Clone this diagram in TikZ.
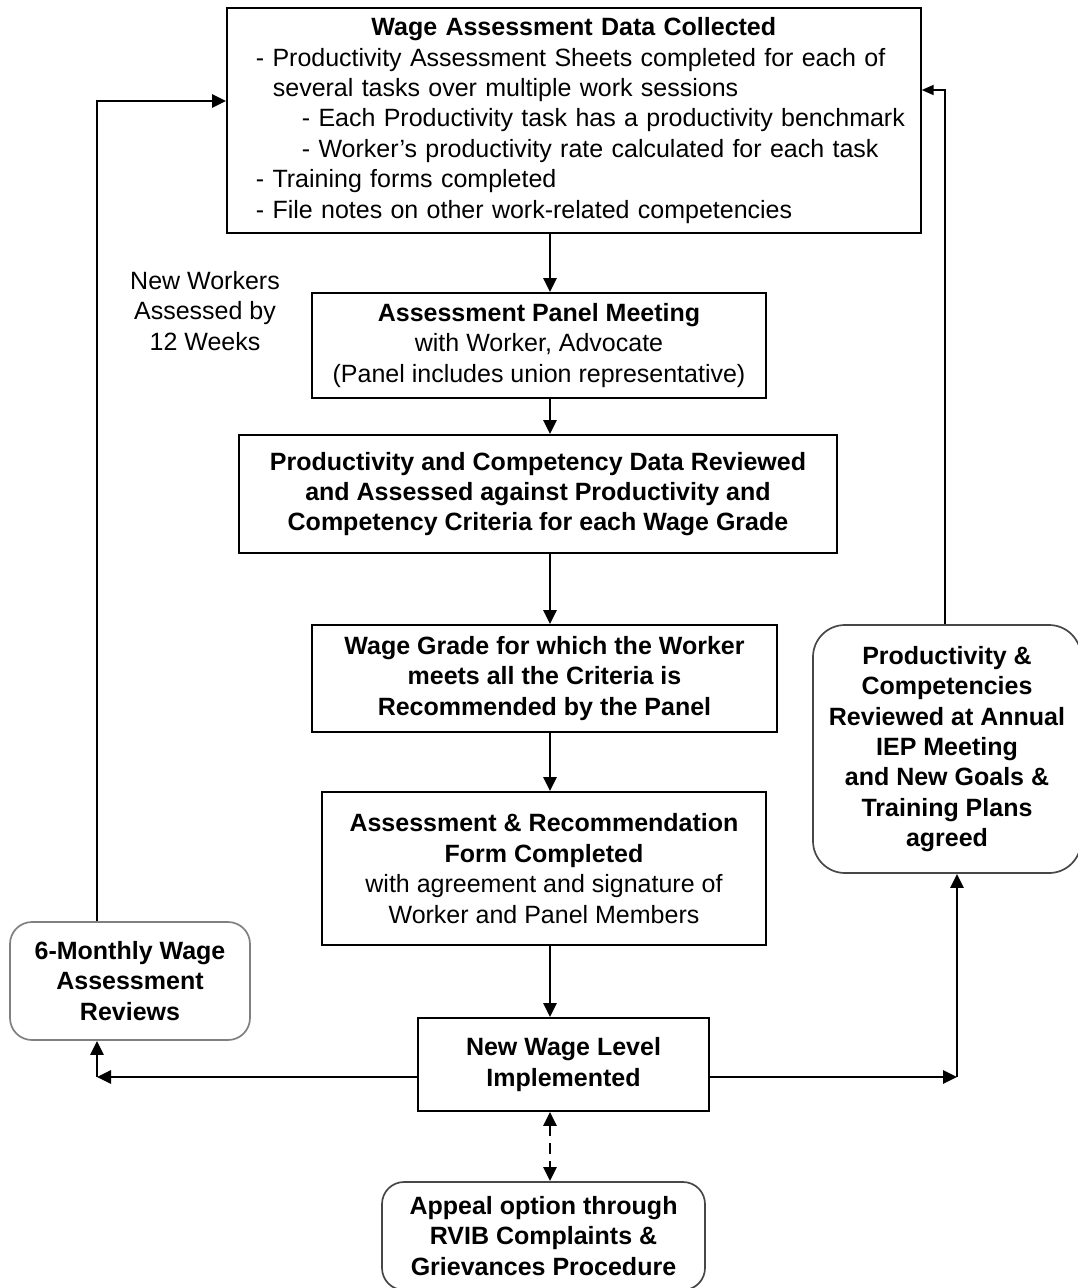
\documentclass[tikz,border=0pt]{standalone}
\usepackage{fontspec}
\setmainfont{Liberation Sans}
\usetikzlibrary{arrows.meta}

\begin{document}
\begin{tikzpicture}[x=1pt,y=-1pt,
  txt/.style={font=\fontsize{25}{30.4}\selectfont},
  box/.style={txt, draw, line width=1.7pt, align=center, inner sep=0pt},
  rbox/.style={box, draw=black!72, rounded corners=22pt},
  arr/.style={line width=2.7pt, -{Triangle[length=14pt,width=13pt]}},
  thinarr/.style={line width=1.8pt, -{Triangle[length=12pt,width=10pt]}}
]
\useasboundingbox (0,0) rectangle (1077,1288);

% reference positions for the connectors
\coordinate (spine) at (550,0);
\coordinate (cl) at (97,1077);
\coordinate (cr) at (957,1077);
\coordinate (ctop) at (97,101);
\coordinate (crt) at (945,90);

% data collection box
\node[box, anchor=north west, align=left, inner xsep=14pt, inner ysep=4pt,
      text width=666pt, minimum height=225pt] (wadc) at (226,7)
  {\makebox[666pt]{\bfseries Wage Assessment Data Collected}\\
   \mbox{\hspace*{15pt}- Productivity Assessment Sheets completed for each of}\\
   \mbox{\hspace*{32pt}several tasks over multiple work sessions}\\
   \mbox{\hspace*{61pt}- Each Productivity task has a productivity benchmark}\\
   \mbox{\hspace*{61pt}- Worker's productivity rate calculated for each task}\\
   \mbox{\hspace*{15pt}- Training forms completed}\\
   \mbox{\hspace*{15pt}- File notes on other work-related competencies}};

\node[txt, align=center] (nwa) at (205,311) {New Workers\\Assessed by\\12 Weeks};

\node[box, minimum width=454pt, minimum height=105pt] (apm) at (539,345.5)
  {\textbf{Assessment Panel Meeting}\\with Worker, Advocate\\(Panel includes union representative)};

\node[box, font=\fontsize{25}{30.4}\selectfont\bfseries, minimum width=598pt, minimum height=118pt] (pcd) at (538,494)
  {Productivity and Competency Data Reviewed\\and Assessed against Productivity and\\Competency Criteria for each Wage Grade};

\node[box, font=\fontsize{25}{30.4}\selectfont\bfseries, minimum width=465pt, minimum height=107pt] (wgr) at (544.5,678.5)
  {Wage Grade for which the Worker\\meets all the Criteria is\\Recommended by the Panel};

\node[box, minimum width=444pt, minimum height=153pt] (arf) at (544,868.5)
  {\textbf{Assessment \& Recommendation}\\\textbf{Form Completed}\\with agreement and signature of\\Worker and Panel Members};

\node[box, font=\fontsize{25}{30.4}\selectfont\bfseries, minimum width=291pt, minimum height=93pt] (nwl) at (563.5,1064.5)
  {New Wage Level\\Implemented};

\node[rbox, font=\fontsize{25}{30.4}\selectfont\bfseries, minimum width=323pt, minimum height=108pt] (apl) at (543.5,1236)
  {Appeal option through\\RVIB Complaints \&\\Grievances Procedure};

\node[rbox, draw=black!50, font=\fontsize{25}{30.4}\selectfont\bfseries, minimum width=240pt, minimum height=118pt] (smr) at (130,981)
  {6-Monthly Wage\\Assessment\\Reviews};

\node[rbox, rounded corners=32pt, font=\fontsize{25}{30.4}\selectfont\bfseries, minimum width=268pt, minimum height=248pt] (pcr) at (947,749)
  {Productivity \&\\Competencies\\Reviewed at Annual\\IEP Meeting\\and New Goals \&\\Training Plans\\agreed};

% main flow
\draw[arr] (wadc.south -| spine) -- (apm.north -| spine);
\draw[arr] (apm.south -| spine) -- (pcd.north -| spine);
\draw[arr] (pcd.south -| spine) -- (wgr.north -| spine);
\draw[arr] (wgr.south -| spine) -- (arf.north -| spine);
\draw[arr] (arf.south -| spine) -- (nwl.north -| spine);

% appeal link
\draw[line width=2.7pt, dash pattern=on 11pt off 7pt,
      {Triangle[length=14pt,width=13pt]}-{Triangle[length=14pt,width=13pt]}]
  (nwl.south -| spine) -- (apl.north -| spine);

% branches to the review boxes
\draw[arr] (nwl.west |- cl) -- (cl);
\draw[arr] (cl) -- (smr.south -| cl);
\draw[arr] (nwl.east |- cr) -- (cr);
\draw[arr] (cr) -- (pcr.south -| cr);

% feedback loops back to data collection
\draw[arr] (smr.north -| ctop) |- (wadc.west |- ctop);
\draw[thinarr] (pcr.north -| crt) |- (wadc.east |- crt);
\end{tikzpicture}
\end{document}
